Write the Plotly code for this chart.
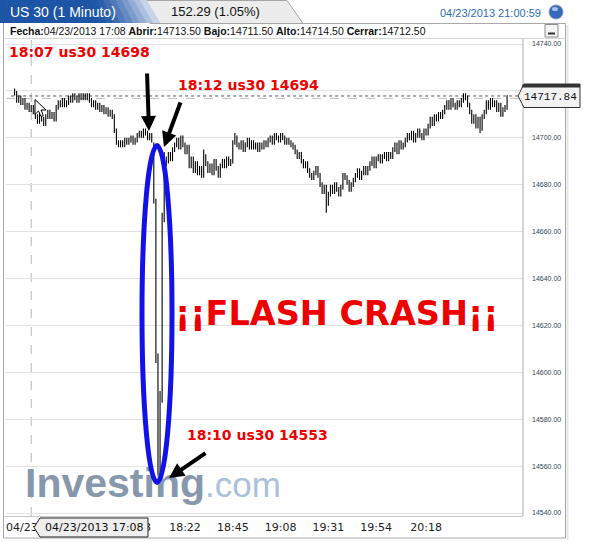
import plotly.graph_objects as go
import pandas as pd

# ---------------- data ----------------
start_time = "2013-04-23 17:00"
n_bars = 238
times = pd.date_range(start_time, periods=n_bars, freq="min")

opens = [14720, 14719, 14716, 14717, 14715, 14716, 14713, 14714, 14712, 14713,
         14711, 14709, 14707, 14710, 14708, 14706, 14709, 14711, 14709, 14710,
         14708, 14713, 14715, 14714, 14716, 14714, 14715, 14717, 14716, 14718,
         14717, 14716, 14718, 14717, 14718, 14717, 14718, 14716, 14714, 14715,
         14713, 14714, 14712, 14713, 14711, 14712, 14710, 14711, 14709, 14703,
         14698, 14697, 14698, 14697, 14699, 14698, 14699, 14700, 14698, 14699,
         14701, 14702, 14701, 14703, 14702, 14700, 14701, 14697, 14673, 14606,
         14560, 14589, 14666, 14690, 14690, 14693, 14691, 14695, 14697, 14699,
         14696, 14700, 14697, 14694, 14696, 14688, 14691, 14686, 14689, 14685,
         14687, 14684, 14692, 14689, 14686, 14688, 14685, 14690, 14687, 14684,
         14688, 14690, 14688, 14691, 14689, 14690, 14698, 14700, 14697, 14696,
         14698, 14695, 14697, 14699, 14696, 14698, 14696, 14697, 14695, 14697,
         14696, 14698, 14697, 14699, 14700, 14698, 14701, 14700, 14699, 14701,
         14700, 14698, 14699, 14698, 14697, 14696, 14694, 14692, 14693, 14690,
         14688, 14689, 14686, 14684, 14683, 14685, 14687, 14684, 14680, 14677,
         14679, 14672, 14676, 14679, 14677, 14680, 14678, 14676, 14679, 14684,
         14683, 14681, 14678, 14680, 14682, 14684, 14686, 14683, 14685, 14687,
         14685, 14687, 14689, 14691, 14688, 14691, 14692, 14690, 14692, 14693,
         14691, 14693, 14692, 14695, 14697, 14694, 14698, 14696, 14697, 14699,
         14701, 14700, 14702, 14699, 14701, 14703, 14701, 14700, 14703, 14702,
         14705, 14708, 14706, 14709, 14708, 14710, 14709, 14711, 14713, 14715,
         14713, 14716, 14714, 14713, 14715, 14714, 14716, 14718, 14717, 14714,
         14711, 14707, 14709, 14705, 14708, 14704, 14709, 14711, 14715, 14713,
         14716, 14714, 14715, 14712, 14714, 14710, 14712, 14713]

highs = [14721, 14720, 14718, 14718, 14717, 14717, 14715, 14715, 14714, 14714,
         14712, 14710, 14711, 14711, 14709, 14710, 14712, 14712, 14711, 14711,
         14714, 14716, 14716, 14717, 14717, 14716, 14718, 14718, 14719, 14719,
         14718, 14719, 14719, 14719, 14719, 14719, 14719, 14717, 14716, 14716,
         14715, 14715, 14714, 14714, 14713, 14713, 14712, 14712, 14710, 14704,
         14699, 14699, 14699, 14700, 14700, 14700, 14701, 14701, 14700, 14702,
         14703, 14703, 14704, 14704, 14703, 14702, 14702, 14698, 14674, 14608,
         14592, 14668, 14694, 14692, 14694, 14694, 14696, 14698, 14700, 14700,
         14701, 14701, 14698, 14697, 14697, 14692, 14692, 14690, 14690, 14688,
         14688, 14695, 14693, 14690, 14689, 14689, 14691, 14691, 14688, 14689,
         14691, 14691, 14692, 14692, 14691, 14699, 14702, 14701, 14698, 14699,
         14699, 14698, 14700, 14700, 14699, 14699, 14698, 14698, 14698, 14698,
         14699, 14699, 14700, 14701, 14701, 14702, 14702, 14701, 14702, 14702,
         14701, 14700, 14700, 14699, 14698, 14697, 14695, 14694, 14694, 14691,
         14690, 14690, 14687, 14685, 14686, 14688, 14688, 14685, 14681, 14680,
         14680, 14677, 14680, 14680, 14681, 14681, 14679, 14680, 14685, 14685,
         14684, 14682, 14681, 14683, 14685, 14687, 14687, 14686, 14688, 14688,
         14688, 14690, 14692, 14692, 14692, 14693, 14693, 14693, 14694, 14694,
         14694, 14694, 14696, 14698, 14698, 14699, 14699, 14698, 14700, 14702,
         14702, 14703, 14703, 14702, 14704, 14704, 14702, 14704, 14704, 14706,
         14709, 14709, 14710, 14710, 14711, 14711, 14712, 14714, 14716, 14716,
         14717, 14717, 14715, 14716, 14716, 14717, 14719, 14719, 14718, 14715,
         14712, 14710, 14710, 14709, 14709, 14710, 14712, 14716, 14716, 14717,
         14717, 14716, 14716, 14715, 14715, 14713, 14714, 14718]

lows = [14718, 14715, 14715, 14714, 14714, 14712, 14712, 14711, 14711, 14710,
        14708, 14706, 14706, 14707, 14705, 14705, 14708, 14708, 14708, 14707,
        14707, 14712, 14713, 14713, 14713, 14713, 14714, 14715, 14715, 14716,
        14715, 14715, 14716, 14716, 14716, 14716, 14715, 14713, 14713, 14712,
        14712, 14711, 14711, 14710, 14710, 14709, 14709, 14708, 14702, 14697,
        14696, 14696, 14696, 14696, 14697, 14697, 14698, 14697, 14697, 14698,
        14700, 14700, 14700, 14701, 14699, 14699, 14698, 14672, 14604, 14556,
        14553, 14587, 14664, 14688, 14689, 14690, 14690, 14694, 14696, 14695,
        14695, 14696, 14693, 14693, 14687, 14687, 14685, 14685, 14684, 14684,
        14683, 14683, 14688, 14685, 14685, 14684, 14684, 14686, 14683, 14683,
        14687, 14687, 14687, 14688, 14688, 14689, 14697, 14696, 14695, 14695,
        14694, 14694, 14696, 14695, 14695, 14695, 14695, 14694, 14694, 14695,
        14695, 14696, 14696, 14698, 14697, 14697, 14699, 14698, 14698, 14699,
        14697, 14697, 14697, 14696, 14695, 14693, 14691, 14691, 14689, 14687,
        14687, 14685, 14683, 14682, 14682, 14684, 14683, 14679, 14676, 14676,
        14668, 14671, 14675, 14676, 14676, 14677, 14675, 14675, 14678, 14682,
        14680, 14677, 14677, 14679, 14681, 14683, 14682, 14682, 14684, 14684,
        14684, 14686, 14688, 14687, 14687, 14690, 14689, 14689, 14691, 14690,
        14690, 14691, 14691, 14694, 14693, 14693, 14695, 14695, 14696, 14698,
        14699, 14699, 14698, 14698, 14700, 14700, 14699, 14699, 14701, 14701,
        14704, 14705, 14705, 14707, 14707, 14708, 14708, 14710, 14712, 14712,
        14712, 14713, 14712, 14712, 14713, 14713, 14715, 14716, 14713, 14710,
        14706, 14706, 14704, 14704, 14702, 14703, 14708, 14710, 14712, 14712,
        14713, 14713, 14711, 14711, 14709, 14709, 14711, 14712]

closes = [14719, 14716, 14717, 14715, 14716, 14713, 14714, 14712, 14713, 14711,
          14709, 14707, 14710, 14708, 14706, 14709, 14711, 14709, 14710, 14708,
          14713, 14715, 14714, 14716, 14714, 14715, 14717, 14716, 14718, 14717,
          14716, 14718, 14717, 14718, 14717, 14718, 14716, 14714, 14715, 14713,
          14714, 14712, 14713, 14711, 14712, 14710, 14711, 14709, 14703, 14698,
          14697, 14698, 14697, 14699, 14698, 14699, 14700, 14698, 14699, 14701,
          14702, 14701, 14703, 14702, 14700, 14701, 14699, 14673, 14606, 14560,
          14589, 14666, 14690, 14690, 14693, 14691, 14695, 14697, 14699, 14696,
          14700, 14697, 14694, 14696, 14688, 14691, 14686, 14689, 14685, 14687,
          14684, 14692, 14689, 14686, 14688, 14685, 14690, 14687, 14684, 14688,
          14690, 14688, 14691, 14689, 14690, 14698, 14700, 14697, 14696, 14698,
          14695, 14697, 14699, 14696, 14698, 14696, 14697, 14695, 14697, 14696,
          14698, 14697, 14699, 14700, 14698, 14701, 14700, 14699, 14701, 14700,
          14698, 14699, 14698, 14697, 14696, 14694, 14692, 14693, 14690, 14688,
          14689, 14686, 14684, 14683, 14685, 14687, 14684, 14680, 14677, 14679,
          14672, 14676, 14679, 14677, 14680, 14678, 14676, 14679, 14684, 14683,
          14681, 14678, 14680, 14682, 14684, 14686, 14683, 14685, 14687, 14685,
          14687, 14689, 14691, 14688, 14691, 14692, 14690, 14692, 14693, 14691,
          14693, 14692, 14695, 14697, 14694, 14698, 14696, 14697, 14699, 14701,
          14700, 14702, 14699, 14701, 14703, 14701, 14700, 14703, 14702, 14705,
          14708, 14706, 14709, 14708, 14710, 14709, 14711, 14713, 14715, 14713,
          14716, 14714, 14713, 14715, 14714, 14716, 14718, 14717, 14714, 14711,
          14707, 14709, 14705, 14708, 14704, 14709, 14711, 14715, 14713, 14716,
          14714, 14715, 14712, 14714, 14710, 14712, 14713, 14718]

y_ticks = [14540, 14560, 14580, 14600, 14620, 14640, 14660, 14680, 14700, 14720, 14740]
# the 14720.00 label is hidden behind the last-price tag in the reference
y_tick_labels = ["14540.00", "14560.00", "14580.00", "14600.00", "14620.00", "14640.00",
                 "14660.00", "14680.00", "14700.00", "", "14740.00"]
x_tick_times = ["2013-04-23 17:03:30", "2013-04-23 17:58", "2013-04-23 18:22", "2013-04-23 18:45",
                "2013-04-23 19:08", "2013-04-23 19:31", "2013-04-23 19:54", "2013-04-23 20:18"]
x_tick_labels = ["04/23", "17:58", "18:22", "18:45", "19:08", "19:31", "19:54", "20:18"]

last_price = 14717.84
last_price_label = "14717.84"
crosshair_time = "2013-04-23 17:08"
crosshair_price = 14716.8
crosshair_label = "04/23/2013 17:08"

title_text = "US 30 (1 Minuto)"
change_text = "152.29 (1.05%)"
clock_text = "04/23/2013 21:00:59"
info_text = ("<b>Fecha:</b>04/23/2013 17:08 <b>Abrir:</b>14713.50 <b>Bajo:</b>14711.50 "
             "<b>Alto:</b>14714.50 <b>Cerrar:</b>14712.50")

note_before = "18:07 us30 14698"
note_after = "18:12 us30 14694"
note_low = "18:10 us30 14553"
headline = "¡¡FLASH CRASH¡¡"

assert len(opens) == len(highs) == len(lows) == len(closes) == n_bars

# ---------------- geometry helpers (pixel -> paper) ----------------
W_FIG, H_FIG = 611, 542
L, R, T, B = 6, 523, 40, 516
PW, PH = R - L, B - T


def X(px):
    return (px - L) / PW


def Y(py):
    return (B - py) / PH


fig = go.Figure()
fig.add_trace(go.Ohlc(
    x=times, open=opens, high=highs, low=lows, close=closes,
    increasing=dict(line=dict(color="black", width=1.1)),
    decreasing=dict(line=dict(color="black", width=1.1)),
    tickwidth=0.22, hoverinfo="skip", showlegend=False,
))

shapes = []
annotations = []


def pshape(path, fill, line_color=None, lw=0, layer="above"):
    shapes.append(dict(type="path", path=path, xref="paper", yref="paper",
                       fillcolor=fill, line=dict(color=line_color or fill, width=lw), layer=layer))


def pts_path(pts, close=True):
    s = "M " + " L ".join(f"{X(a):.5f},{Y(b):.5f}" for a, b in pts)
    return s + (" Z" if close else "")


def pline(x0, y0, x1, y1, color, w=1, dash="solid", layer="above"):
    shapes.append(dict(type="line", xref="paper", yref="paper", x0=X(x0), y0=Y(y0), x1=X(x1), y1=Y(y1),
                       line=dict(color=color, width=w, dash=dash), layer=layer))


# crosshair & last price lines
shapes.append(dict(type="line", xref="x", yref="paper", x0=crosshair_time, x1=crosshair_time, y0=0, y1=1,
                   line=dict(color="#b8b8b8", width=1, dash="dash"), layer="between"))
shapes.append(dict(type="line", xref="paper", yref="y", x0=0, x1=1, y0=crosshair_price, y1=crosshair_price,
                   line=dict(color="#c0c0c0", width=1, dash="dash"), layer="between"))
shapes.append(dict(type="line", xref="paper", yref="y", x0=0.01, x1=0.995, y0=last_price, y1=last_price,
                   line=dict(color="#555555", width=1, dash="dot"), layer="between"))

# frame
pline(3.5, 23, 3.5, 538, "#a8a8a8")
pline(565.5, 23, 565.5, 538, "#a8a8a8")
pline(3.5, 538, 565.5, 538, "#a8a8a8")
pline(567.5, 25, 567.5, 540, "#e6e6e6", w=2)
pline(300, 23.5, 565.5, 23.5, "#a8a8a8")
pline(3.5, 38.5, 565.5, 38.5, "#d6d6d6")
pline(523, 38.5, 523, 516, "#b0b0b0")
pline(3.5, 516.5, 523, 516.5, "#c8c8c8")

# header tabs
pshape(pts_path([(140, 0.5), (287, 0.5), (303, 23.5), (150, 23.5)]), "#ececec", "#a5a5a5", 1)


def blend(c1, c2, t):
    return "#%02x%02x%02x" % tuple(round(a + (b - a) * t) for a, b in zip(c1, c2))


dark, light = (0x1d, 0x54, 0xa5), (0xd6, 0xe0, 0xee)
N = 24
for i in range(N):
    s0, s1 = i / N, (i + 1) / N
    sm = (s0 + s1) / 2
    t = 0 if sm < 0.62 else min(1, ((sm - 0.62) / 0.38) ** 1.4)
    pshape(pts_path([(s0 * 146, 0), (s1 * 146 + 0.6, 0), (s1 * 160 + 0.6, 23), (s0 * 160, 23)]),
           blend(dark, light, t))

# clock sphere
shapes.append(dict(type="circle", xref="paper", yref="paper", x0=X(549), x1=X(563), y0=Y(19), y1=Y(5),
                   fillcolor="#3569bd", line=dict(color="#8a97aa", width=1), layer="above"))
shapes.append(dict(type="circle", xref="paper", yref="paper", x0=X(552), x1=X(558), y0=Y(11), y1=Y(7),
                   fillcolor="#a9c4ec", line=dict(width=0), layer="above"))

# minimize button
shapes.append(dict(type="rect", xref="paper", yref="paper", x0=X(545), x1=X(558), y0=Y(37), y1=Y(24.5),
                   fillcolor="#f3f3f3", line=dict(color="#8c8c8c", width=1), layer="above"))
shapes.append(dict(type="rect", xref="paper", yref="paper", x0=X(548), x1=X(555), y0=Y(34.5), y1=Y(32.5),
                   fillcolor="#333333", line=dict(width=0), layer="above"))

# last price tag
pshape(pts_path([(518, 96), (524, 84), (580, 84), (580, 107.5), (524, 107.5)]), "#f2f2f2", "#333333", 1)
pshape(pts_path([(523, 84), (580, 84), (580, 87.5), (521.5, 87.5)]), "#333333")

# tooltip box at the x axis
pshape(pts_path([(34, 527.5), (40, 518), (148, 518), (148, 537), (40, 537)]), "#eeeeee", "#222222", 1)

# mouse cursor
cx, cy = 35, 99.5
cur = [(0, 0), (0, 15), (3.5, 11.5), (6, 17), (8.3, 16), (6, 10.5), (11, 10.5)]
pshape(pts_path([(cx + a, cy + b) for a, b in cur]), "white", "black", 1)

# watermark (as shape label so the ellipse can sit above it)
shapes.append(dict(type="rect", xref="paper", yref="paper", x0=X(20), x1=X(300), y0=Y(503), y1=Y(455),
                   fillcolor="rgba(0,0,0,0)", line=dict(width=0), layer="above",
                   label=dict(text="<b>Investing</b><span style='color:#abc1da;font-size:35px'>.com</span>",
                              textposition="middle left", padding=2,
                              font=dict(family="Liberation Sans", size=41, color="#8798ad"))))

# blue ellipse
shapes.append(dict(type="circle", xref="paper", yref="paper", x0=X(142), x1=X(172), y0=Y(482.5), y1=Y(145.5),
                   fillcolor="rgba(0,0,0,0)", line=dict(color="#1212e8", width=5), layer="above"))

# header texts
annotations += [
    dict(text=title_text, x=X(8), y=Y(12), xanchor="left", yanchor="middle",
         font=dict(family="Liberation Sans", size=14, color="white")),
    dict(text=change_text, x=X(215), y=Y(12), xanchor="center", yanchor="middle",
         font=dict(family="Liberation Sans", size=13, color="#111111")),
    dict(text=clock_text, x=X(543), y=Y(13), xanchor="right", yanchor="middle",
         font=dict(family="Liberation Sans", size=11, color="#2f6db8")),
    dict(text=info_text, x=X(8), y=Y(31), xanchor="left", yanchor="middle",
         font=dict(family="Liberation Sans", size=10.5, color="#111111")),
    dict(text=last_price_label, x=X(550), y=Y(97), xanchor="center", yanchor="middle",
         font=dict(family="Liberation Mono", size=11, color="#111111")),
    dict(text=crosshair_label, x=X(94), y=Y(527.5), xanchor="center", yanchor="middle",
         font=dict(family="DejaVu Sans", size=11, color="#111111")),
]

# red notes
red = "#ee0000"
annotations += [
    dict(text=f"<b>{note_before}</b>", x=X(7), y=Y(52), xanchor="left", yanchor="middle",
         font=dict(family="DejaVu Sans", size=14, color=red)),
    dict(text=f"<b>{note_after}</b>", x=X(176), y=Y(84.5), xanchor="left", yanchor="middle",
         font=dict(family="DejaVu Sans", size=14, color=red)),
    dict(text=f"<b>{note_low}</b>", x=X(185), y=Y(434.5), xanchor="left", yanchor="middle",
         font=dict(family="DejaVu Sans", size=14, color=red)),
    dict(text=f"<b>{headline}</b>", x=X(173), y=Y(313), xanchor="left", yanchor="middle",
         font=dict(family="DejaVu Sans", size=33.5, color=red)),
]

# black arrows
for (hx, hy, tx, ty) in [(149, 131, 147, 72), (164, 147, 181, 101), (169, 478, 207, 452)]:
    annotations.append(dict(text="", x=X(hx), y=Y(hy), ax=tx - hx, ay=ty - hy, showarrow=True,
                            arrowhead=2, arrowsize=0.75, arrowwidth=4, arrowcolor="black", standoff=0))

for a in annotations:
    a.setdefault("xref", "paper")
    a.setdefault("yref", "paper")
    a.setdefault("showarrow", False)

# axis range in time: pixel L and R mapped with 2.078 px/min, 17:00 at x=14.6
x_start = "2013-04-23 16:55:52"
x_end = "2013-04-23 21:04:40"

fig.update_layout(
    width=W_FIG, height=H_FIG, autosize=False,
    margin=dict(l=L, r=W_FIG - R, t=T, b=H_FIG - B, pad=0),
    paper_bgcolor="white", plot_bgcolor="white", showlegend=False,
    xaxis=dict(type="date", range=[x_start, x_end], rangeslider=dict(visible=False),
               showgrid=False, zeroline=False, showline=False, ticks="",
               tickmode="array", tickvals=x_tick_times, ticktext=x_tick_labels,
               tickfont=dict(family="DejaVu Sans", size=11, color="#222222"),
               ticklabelstandoff=3, fixedrange=True),
    yaxis=dict(side="right", range=[14538.72, 14741.71], tickmode="array",
               tickvals=y_ticks, ticktext=y_tick_labels,
               tickfont=dict(family="Liberation Sans", size=7, color="#334455"),
               showgrid=True, gridcolor="#e2e2e2", gridwidth=1, zeroline=False,
               showline=False, ticks="", ticklabelstandoff=8, fixedrange=True),
    shapes=shapes, annotations=annotations,
)

fig.write_html("out.html", config={"displayModeBar": False},
               post_script="document.body.style.margin='0px';document.body.style.padding='0px';")
